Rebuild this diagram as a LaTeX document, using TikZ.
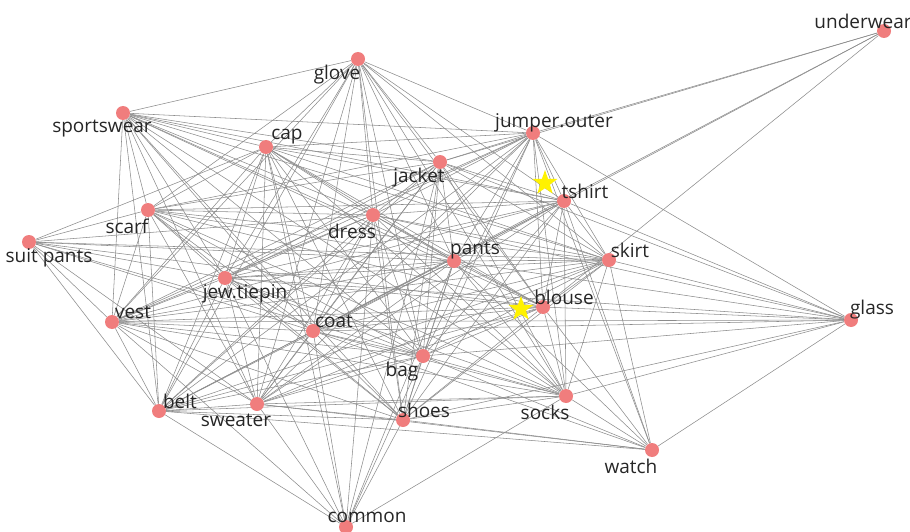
\documentclass[tikz,border=0pt]{standalone}
\usepackage{fontspec}
\setmainfont{Open Sans}
\usepackage{tikz}
\usetikzlibrary{shapes.geometric}
\usetikzlibrary{backgrounds}
\definecolor{salmon}{RGB}{240,125,125}
\definecolor{edgegray}{RGB}{140,140,140}
\tikzset{
	item/.style={circle, fill=salmon, minimum size=14pt, inner sep=0pt},
	lbl/.style={font=\fontsize{19}{19}\selectfont, text=black!85, inner sep=0pt, anchor=mid},
	ne/.style={label={[lbl,xshift=21pt,yshift=10pt]center:#1}},
	nw/.style={label={[lbl,xshift=-21pt,yshift=10pt]center:#1}},
	se/.style={label={[lbl,xshift=20pt,yshift=-16pt]center:#1}},
	sw/.style={label={[lbl,xshift=-21pt,yshift=-16pt]center:#1}},
	link/.style={edgegray, line width=.55pt},
	mark star/.style={star, star points=5, star point ratio=2.5, fill=yellow, minimum size=26pt, inner sep=0pt}
}

\begin{document}
\begin{tikzpicture}[x=1pt,y=-1pt]
	\useasboundingbox (0,0) rectangle (910,532);
	
	% draw nodes
	\node[item,nw=underwear] (underwear) at (884,31) {};
	\node[item,sw=glove] (glove) at (358,59) {};
	\node[item,sw=sportswear] (sportswear) at (123,113) {};
	\node[item,ne=jumper.outer] (jumper) at (533,133) {};
	\node[item,ne=cap] (cap) at (266,147) {};
	\node[item,sw=jacket] (jacket) at (440,162) {};
	\node[item,ne=tshirt] (tshirt) at (564,201) {};
	\node[item,sw=scarf] (scarf) at (148,210) {};
	\node[item,sw=dress] (dress) at (373,215) {};
	\node[item,se=suit pants] (suitpants) at (29,242) {};
	\node[item,ne=pants] (pants) at (454,261) {};
	\node[item,ne=skirt] (skirt) at (609,260) {};
	\node[item,se=jew.tiepin] (tiepin) at (225,278) {};
	\node[item,ne=blouse] (blouse) at (543,307) {};
	\node[item,ne=glass] (glass) at (851,320) {};
	\node[item,ne=vest] (vest) at (112,322) {};
	\node[item,ne=coat] (coat) at (313,331) {};
	\node[item,sw=bag] (bag) at (423,356) {};
	\node[item,sw=socks] (socks) at (566,396) {};
	\node[item,ne=belt] (belt) at (159,411) {};
	\node[item,sw=sweater] (sweater) at (257,404) {};
	\node[item,ne=shoes] (shoes) at (403,420) {};
	\node[item,sw=watch] (watch) at (652,450) {};
	\node[item,ne=common] (common) at (346,527) {};
	
	% stars
	\node[mark star] (tshirtstar) at (545,183) {};
	\node[mark star] (blousestar) at (521,309) {};
	
	% draw edges
	\begin{scope}[on background layer]
		% dense core
		\foreach \a [count=\i] in {glove,sportswear,jumper,cap,jacket,tshirt,scarf,dress,pants,skirt,tiepin,blouse,vest,coat,bag,socks,belt,sweater,shoes}
		\foreach \b [count=\j] in {glove,sportswear,jumper,cap,jacket,tshirt,scarf,dress,pants,skirt,tiepin,blouse,vest,coat,bag,socks,belt,sweater,shoes}
		{\ifnum\j>\i \draw[link] (\a) -- (\b);\fi}
		
		% outer nodes
		\foreach \b in {jumper,jacket,tshirt,blouse,coat}
		\draw[link] (underwear) -- (\b);
		\foreach \b in {scarf,cap,dress,pants,tiepin,blouse,coat,vest,belt,sweater,bag,skirt}
		\draw[link] (suitpants) -- (\b);
		\foreach \b in {tshirt,jumper,skirt,pants,dress,jacket,blouse,coat,tiepin,vest,bag,shoes,socks,watch}
		\draw[link] (glass) -- (\b);
		\foreach \b in {skirt,tshirt,blouse,socks,shoes,bag,coat,sweater,belt,pants,jumper}
		\draw[link] (watch) -- (\b);
		\foreach \b in {belt,sweater,coat,shoes,bag,socks,tiepin,vest,dress,pants,jacket,cap}
		\draw[link] (common) -- (\b);
	\end{scope}
\end{tikzpicture}
\end{document}
